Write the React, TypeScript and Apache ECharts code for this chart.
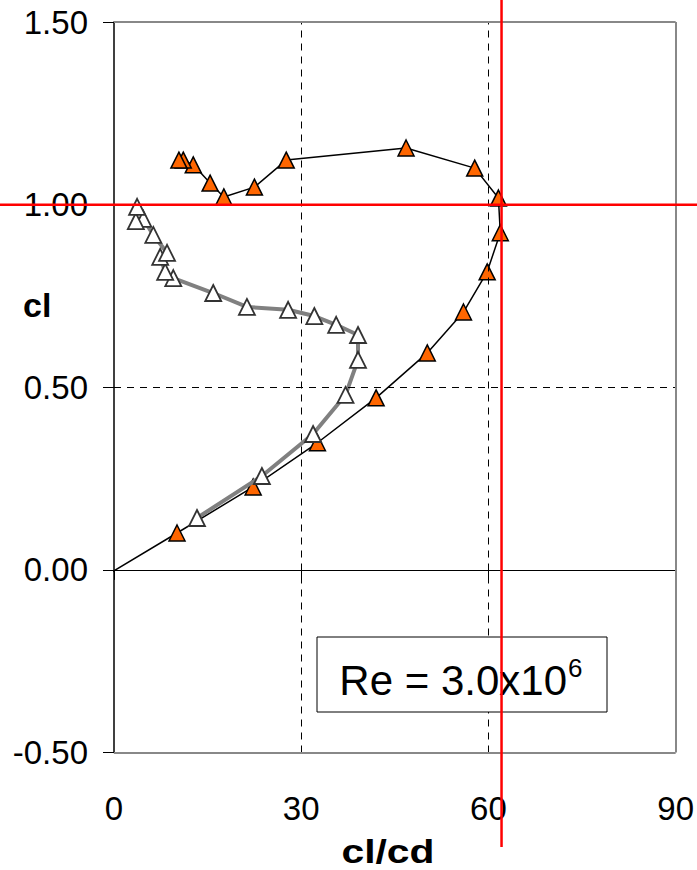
import React, { useEffect, useRef } from 'react';
import * as echarts from 'echarts';

// ---- data ----
const xTickValues = [0, 30, 60, 90];
const yTickValues = [-0.5, 0, 0.5, 1.0, 1.5];

// orange triangles (black line)
const orangeClCd = [-1.1, 10.1, 22.3, 32.6, 42.0, 50.2, 56.0, 59.8, 61.9, 61.6, 57.8, 46.8, 27.6, 22.5, 17.6, 15.4, 12.7, 11.1, 10.4];
const orangeCl = [-0.014, 0.101, 0.227, 0.348, 0.471, 0.594, 0.706, 0.816, 0.923, 1.018, 1.1, 1.155, 1.122, 1.048, 1.021, 1.059, 1.109, 1.122, 1.122];

// white triangles (grey line)
const whiteClCd = [13.3, 23.7, 31.9, 37.1, 39.1, 39.1, 35.6, 32.1, 27.9, 21.3, 15.9, 9.5, 8.2, 7.4, 8.5, 6.3, 4.7, 3.5, 3.7];
const whiteCl = [0.142, 0.257, 0.372, 0.479, 0.575, 0.643, 0.671, 0.695, 0.712, 0.72, 0.758, 0.799, 0.816, 0.857, 0.868, 0.917, 0.961, 0.955, 0.994];

const dashedClCd = [30, 60];
const dashedCl = [0.5, 1.0];
const redClCd = 62.1;
const redCl = 1.0;
const reText = 'Re = 3.0x10';
const reExp = '6';
const xTitle = 'cl/cd';
const yTitle = 'cl';

const FONT = '"Liberation Sans", Arial, Helvetica, sans-serif';

export default function App() {
  const ref = useRef<HTMLDivElement>(null);

  useEffect(() => {
    document.body.style.margin = '0';
    const chart = echarts.init(ref.current!, null, { renderer: 'svg' });

    const dashed = { color: '#000', width: 1, type: [7, 6] };
    const border = { color: '#888', width: 2, type: 'solid' };

    const option: any = {
      animation: false,
      textStyle: { fontFamily: FONT },
      grid: { left: 114, right: 21, top: 22, bottom: 117.5, show: false },
      xAxis: [
        {
          type: 'value',
          min: xTickValues[0],
          max: xTickValues[xTickValues.length - 1],
          interval: xTickValues[1] - xTickValues[0],
          position: 'bottom',
          axisLine: { show: false, onZero: false },
          axisTick: { show: false },
          splitLine: { show: false },
          axisLabel: { fontSize: 33, color: '#000', fontFamily: FONT, margin: 39 },
        },
        {
          type: 'value',
          min: xTickValues[0],
          max: xTickValues[xTickValues.length - 1],
          interval: xTickValues[1] - xTickValues[0],
          position: 'bottom',
          axisLine: { show: true, onZero: true, lineStyle: { color: '#000', width: 1 } },
          axisTick: { show: true, length: 10, lineStyle: { color: '#000', width: 1 } },
          axisLabel: { show: false },
          splitLine: { show: false },
        },
      ],
      yAxis: {
        type: 'value',
        min: yTickValues[0],
        max: yTickValues[yTickValues.length - 1],
        interval: yTickValues[1] - yTickValues[0],
        axisLine: { show: true, onZero: false, lineStyle: { color: '#000', width: 1.5 } },
        axisTick: { show: true, length: 11, lineStyle: { color: '#000', width: 1 } },
        axisLabel: {
          fontSize: 33,
          color: '#000',
          fontFamily: FONT,
          margin: 26,
          formatter: (v: number) => v.toFixed(2),
        },
        splitLine: { show: false },
      },
      series: [
        {
          type: 'line',
          data: [],
          z: 1,
          markLine: {
            silent: true,
            symbol: ['none', 'none'],
            label: { show: false },
            animation: false,
            data: [
              ...dashedClCd.map((v) => ({ xAxis: v, lineStyle: dashed })),
              ...dashedCl.map((v) => ({ yAxis: v, lineStyle: dashed })),
              { yAxis: yTickValues[yTickValues.length - 1], lineStyle: border },
              { yAxis: yTickValues[0], lineStyle: border },
              { xAxis: xTickValues[xTickValues.length - 1], lineStyle: border },
            ],
          },
        },
        {
          type: 'line',
          clip: false,
          z: 3,
          symbol: 'triangle',
          symbolSize: 16,
          showAllSymbol: true,
          data: orangeClCd.map((x, i) =>
            i === 0 ? { value: [x, orangeCl[i]], symbol: 'none' } : [x, orangeCl[i]]
          ),
          lineStyle: { color: '#000', width: 1.5 },
          itemStyle: { color: '#FF6600', borderColor: '#000', borderWidth: 1.5 },
        },
        {
          type: 'line',
          clip: false,
          z: 4,
          symbol: 'triangle',
          symbolSize: 16,
          showAllSymbol: true,
          data: whiteClCd.map((x, i) => [x, whiteCl[i]]),
          lineStyle: { color: '#808080', width: 4 },
          itemStyle: { color: '#fff', borderColor: '#333', borderWidth: 1.8 },
        },
      ],
    };

    chart.setOption(option);

    const p = chart.convertToPixel({ xAxisIndex: 0, yAxisIndex: 0 }, [redClCd, redCl]) as number[];

    chart.setOption({
      graphic: [
        {
          type: 'rect',
          z: 10,
          shape: { x: 317, y: 637, width: 290, height: 75 },
          style: { fill: '#fff', stroke: '#000', lineWidth: 1 },
        },
        {
          type: 'text',
          z: 11,
          x: 567,
          y: 680,
          style: { text: reText, fontSize: 42, fontFamily: FONT, fill: '#000', align: 'right', verticalAlign: 'middle' },
        },
        {
          type: 'text',
          z: 11,
          x: 568,
          y: 668,
          style: { text: reExp, fontSize: 26, fontFamily: FONT, fill: '#000', align: 'left', verticalAlign: 'middle' },
        },
        {
          type: 'text',
          z: 11,
          x: 23,
          y: 305,
          style: { text: yTitle, fontSize: 34, fontWeight: 'bold', fontFamily: FONT, fill: '#000', align: 'left', verticalAlign: 'middle' },
        },
        {
          type: 'text',
          z: 11,
          x: 388,
          y: 851,
          scaleX: 1.2,
          style: { text: xTitle, fontSize: 34, fontWeight: 'bold', fontFamily: FONT, fill: '#000', align: 'center', verticalAlign: 'middle' },
        },
        {
          type: 'line',
          z: 20,
          shape: { x1: 0, y1: p[1], x2: 697, y2: p[1] },
          style: { stroke: '#FF0000', lineWidth: 2.5 },
        },
        {
          type: 'line',
          z: 20,
          shape: { x1: p[0], y1: 0, x2: p[0], y2: 847 },
          style: { stroke: '#FF0000', lineWidth: 2.5 },
        },
      ],
    });

    return () => chart.dispose();
  }, []);

  return <div ref={ref} style={{ width: 697, height: 870 }} />;
}
